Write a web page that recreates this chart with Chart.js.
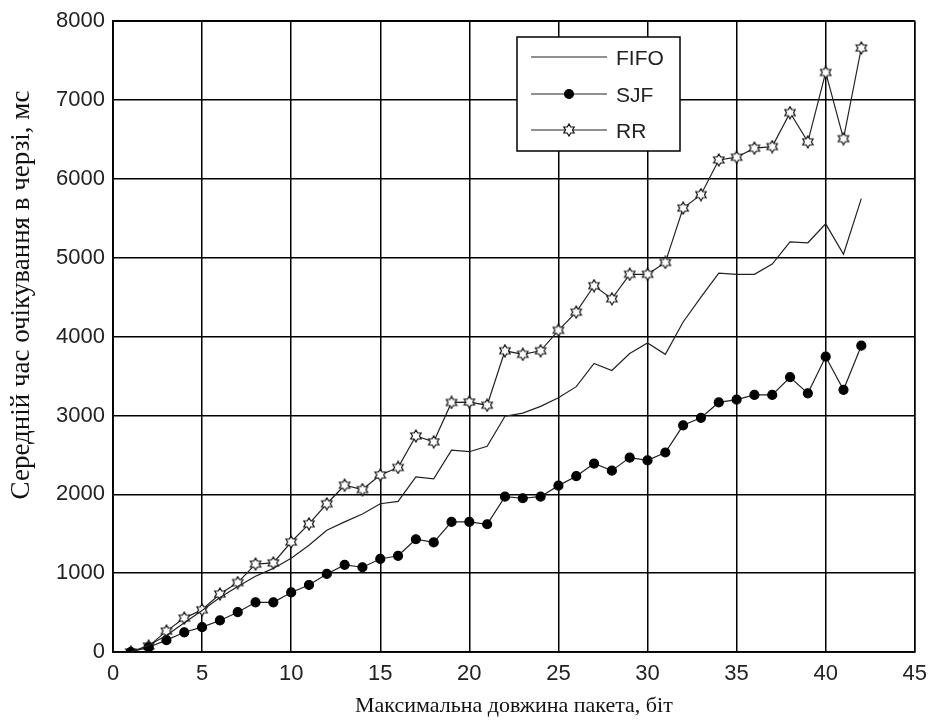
<!DOCTYPE html>
<html>
<head>
<meta charset="utf-8">
<script src="https://cdn.jsdelivr.net/npm/chart.js@4.4.1/dist/chart.umd.min.js"></script>
<style>
  html, body { margin: 0; padding: 0; background: #fff; }
  #chart { display: block; }
</style>
</head>
<body>
<canvas id="chart" width="936" height="722"></canvas>
<script>
// ── Data ─────────────────────────────────────────────────

const packetLen = [1, 2, 3, 4, 5, 6, 7, 8, 9, 10, 11, 12, 13, 14, 15, 16, 17, 18, 19, 20, 21,
                   22, 23, 24, 25, 26, 27, 28, 29, 30, 31, 32, 33, 34, 35, 36, 37, 38, 39, 40, 41, 42];

const fifo = [0, 85, 210, 370, 525, 690, 830, 960, 1060, 1190, 1355, 1545, 1650, 1750, 1880, 1910,
              2220, 2195, 2560, 2540, 2610, 2990, 3030, 3115, 3225, 3365, 3660, 3570, 3785, 3920,
              3775, 4185, 4500, 4805, 4790, 4790, 4920, 5200, 5190, 5430, 5045, 5750];

const sjf = [0, 60, 150, 250, 315, 400, 505, 630, 630, 755, 850, 990, 1105, 1075, 1180, 1220,
             1430, 1390, 1650, 1650, 1620, 1970, 1950, 1970, 2110, 2230, 2390, 2300, 2465, 2430,
             2530, 2875, 2970, 3165, 3200, 3260, 3260, 3485, 3280, 3745, 3325, 3885];

const rr = [0, 75, 265, 430, 535, 735, 880, 1115, 1130, 1395, 1625, 1880, 2115, 2060, 2245, 2340,
            2740, 2665, 3165, 3170, 3130, 3820, 3775, 3820, 4080, 4310, 4645, 4480, 4790, 4790,
            4940, 5630, 5800, 6240, 6275, 6390, 6410, 6840, 6470, 7350, 6510, 7660];

const xTicks = [0, 5, 10, 15, 20, 25, 30, 35, 40, 45];
const yTicks = [0, 1000, 2000, 3000, 4000, 5000, 6000, 7000, 8000];

const seriesNames = ["FIFO", "SJF", "RR"];
const xTitle = "Максимальна довжина пакета, біт";
const yTitle = "Середній час очікування в черзі, мс";

// ── Helpers ──────────────────────────────────────────────

const toPoints = (ys) => packetLen.map((x, i) => ({ x: x, y: ys[i] }));

// matlab style hexagram marker
function makeHexagram(size) {
  const c = document.createElement("canvas");
  c.width = size; c.height = size;
  const ctx = c.getContext("2d");
  const cx = size / 2, cy = size / 2;
  const ro = size / 2 - 1, ri = ro * 0.58;
  ctx.beginPath();
  for (let i = 0; i < 12; i++) {
    const r = i % 2 === 0 ? ro : ri;
    const a = -Math.PI / 2 + i * Math.PI / 6;
    const px = cx + r * Math.cos(a), py = cy + r * Math.sin(a);
    if (i === 0) ctx.moveTo(px, py); else ctx.lineTo(px, py);
  }
  ctx.closePath();
  ctx.fillStyle = "#fff";
  ctx.fill();
  ctx.strokeStyle = "#111";
  ctx.lineWidth = 1.2;
  ctx.stroke();
  return c;
}
const hexagram = makeHexagram(14);

const tickFont = { family: "'Liberation Sans', Arial, sans-serif", size: 22 };
const titleFont = { family: "'Liberation Serif', 'Times New Roman', serif", size: 22 };

// ── Plugins ──────────────────────────────────────────────

const boxPlugin = {
  id: "box",
  beforeDatasetsDraw(chart) {
    const { ctx, chartArea: a } = chart;
    ctx.save();
    ctx.strokeStyle = "#000";
    ctx.lineWidth = 1.5;
    ctx.strokeRect(a.left, a.top, a.right - a.left, a.bottom - a.top);
    ctx.restore();
  }
};

// y label sits a bit above the axis centre in the original, so it is drawn by hand
const yTitlePlugin = {
  id: "yTitle",
  afterDraw(chart) {
    const { ctx } = chart;
    ctx.save();
    ctx.translate(22, 295);
    ctx.rotate(-Math.PI / 2);
    ctx.font = "27px 'Liberation Serif', 'Times New Roman', serif";
    ctx.fillStyle = "#111";
    ctx.textAlign = "center";
    ctx.textBaseline = "middle";
    ctx.fillText(yTitle, 0, 0);
    ctx.restore();
  }
};

const legendPlugin = {
  id: "boxLegend",
  afterDatasetsDraw(chart) {
    const { ctx } = chart;
    const bx = 517, by = 37, bw = 163, bh = 114;
    ctx.save();
    ctx.fillStyle = "#fff";
    ctx.fillRect(bx, by, bw, bh);
    ctx.strokeStyle = "#000";
    ctx.lineWidth = 1.5;
    ctx.strokeRect(bx, by, bw, bh);
    const rows = [57, 94, 130];
    chart.data.datasets.forEach((ds, i) => {
      const y = rows[i];
      ctx.strokeStyle = ds.borderColor;
      ctx.lineWidth = 1.2;
      ctx.beginPath();
      ctx.moveTo(531, y);
      ctx.lineTo(607, y);
      ctx.stroke();
      if (ds.pointRadius > 0) {
        Chart.helpers.drawPoint(ctx, {
          pointStyle: ds.pointStyle, radius: ds.pointRadius, borderWidth: 1
        }, 569, y);
        if (ds.pointStyle === "circle") {
          ctx.fillStyle = ds.pointBackgroundColor;
          ctx.beginPath(); ctx.arc(569, y, ds.pointRadius, 0, Math.PI * 2); ctx.fill();
        }
      }
      ctx.fillStyle = "#222";
      ctx.font = "21px 'Liberation Sans', Arial, sans-serif";
      ctx.textBaseline = "middle";
      ctx.fillText(ds.label, 616, y + 2);
    });
    ctx.restore();
  }
};

// ── Chart ────────────────────────────────────────────────

new Chart(document.getElementById("chart"), {
  type: "line",
  data: {
    datasets: [
      {
        label: seriesNames[0],
        data: toPoints(fifo),
        borderColor: "#222",
        borderWidth: 1.2,
        pointRadius: 0,
        tension: 0
      },
      {
        label: seriesNames[1],
        data: toPoints(sjf),
        borderColor: "#222",
        borderWidth: 1.2,
        pointStyle: "circle",
        pointRadius: 4.5,
        pointBackgroundColor: "#000",
        pointBorderColor: "#000",
        tension: 0
      },
      {
        label: seriesNames[2],
        data: toPoints(rr),
        borderColor: "#222",
        borderWidth: 1.2,
        pointStyle: hexagram,
        pointRadius: 7,
        tension: 0
      }
    ]
  },
  options: {
    responsive: false,
    animation: false,
    events: [],
    layout: { padding: { top: 17, right: 16, left: 0, bottom: 0 } },
    plugins: {
      legend: { display: false },
      tooltip: { enabled: false }
    },
    scales: {
      x: {
        type: "linear",
        min: 0,
        max: 45,
        afterBuildTicks: (s) => { s.ticks = xTicks.map(v => ({ value: v })); },
        afterFit: (s) => { s.height = 70; },
        grid: { color: "#000", lineWidth: 1.5, drawTicks: false },
        border: { color: "#000", width: 1.5 },
        ticks: { font: tickFont, color: "#222", padding: 9, maxRotation: 0, callback: (v) => String(v) },
        title: { display: true, text: xTitle, font: titleFont, color: "#111", padding: { top: 0, bottom: 3 } }
      },
      y: {
        type: "linear",
        min: 0,
        max: 8000,
        afterBuildTicks: (s) => { s.ticks = yTicks.map(v => ({ value: v })); },
        afterFit: (s) => { s.width = 113; },
        grid: { color: "#000", lineWidth: 1.5, drawTicks: false },
        border: { color: "#000", width: 1.5 },
        ticks: { font: tickFont, color: "#222", padding: 8, callback: (v) => String(v) },
        title: { display: false }
      }
    }
  },
  plugins: [boxPlugin, legendPlugin, yTitlePlugin]
});
</script>
</body>
</html>
